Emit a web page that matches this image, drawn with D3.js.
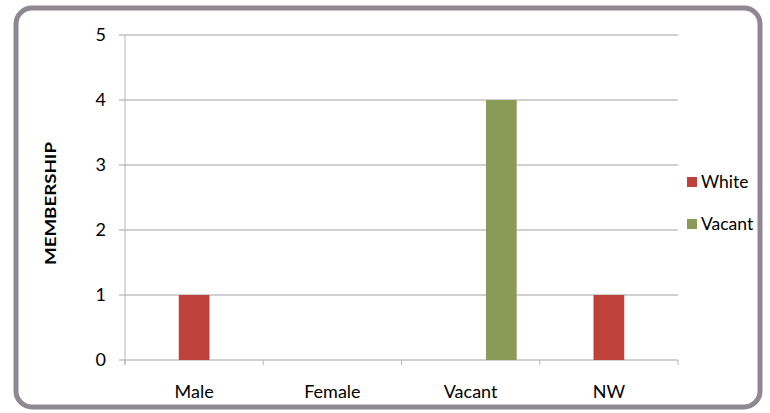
<!DOCTYPE html>
<html><head><meta charset="utf-8">
<script src="https://d3js.org/d3.v7.min.js"></script>
<style>
html,body{margin:0;padding:0;background:#fff;}
svg{display:block;font-family:Lato, "Open Sans", sans-serif;}
</style></head>
<body>
<svg id="chart" width="770" height="413"></svg>
<script>
const categories = ["Male", "Female", "Vacant", "NW"];
// Excel cluster has three slots; the first one is an empty (blank) series
const slots = ["", "White", "Vacant"];
const blankValues = [0, 0, 0, 0];
const whiteValues = [1, 0, 0, 1];
const vacantValues = [0, 0, 4, 0];
const legendSeries = ["White", "Vacant"];
const yTicks = [0, 1, 2, 3, 4, 5];
const yLabel = "MEMBERSHIP";

const colors = {"": "none", "White": "#c0403a", "Vacant": "#8a9b58"};
const seriesValues = {"": blankValues, "White": whiteValues, "Vacant": vacantValues};

const svg = d3.select("#chart");
const plot = {left: 125, right: 678, top: 35, bottom: 360};

// border
svg.append("rect").attr("x", 16).attr("y", 8).attr("width", 744).attr("height", 399)
  .attr("rx", 16).attr("ry", 16).attr("fill", "#fff")
  .attr("stroke", "#8d8892").attr("stroke-width", 5);

const x = d3.scaleBand().domain(categories).range([plot.left, plot.right]).paddingInner(0).paddingOuter(0);
// gap width 150% → inner slot positions
const gapFrac = 1.5 / (slots.length + 1.5);
const xs = d3.scaleBand().domain(slots).range([x.bandwidth() * gapFrac / 2, x.bandwidth() * (1 - gapFrac / 2)]).padding(0);
const y = d3.scaleLinear().domain([0, 5]).range([plot.bottom, plot.top]);

// gridlines
svg.append("g").selectAll("line").data(yTicks).join("line")
  .attr("x1", plot.left - 6).attr("x2", plot.right)
  .attr("y1", d => y(d)).attr("y2", d => y(d))
  .attr("stroke", "#a3a3a3").attr("stroke-width", 1);

// y axis line
svg.append("line").attr("x1", plot.left).attr("x2", plot.left)
  .attr("y1", plot.top).attr("y2", plot.bottom + 5)
  .attr("stroke", "#b5b5b5").attr("stroke-width", 1);

// x ticks at category boundaries
const bounds = categories.map(c => x(c)).concat([plot.right]);
svg.append("g").selectAll("line").data(bounds).join("line")
  .attr("x1", d => d).attr("x2", d => d)
  .attr("y1", plot.bottom).attr("y2", plot.bottom + 5)
  .attr("stroke", "#b5b5b5");

// y tick labels
svg.append("g").selectAll("text").data(yTicks).join("text")
  .attr("x", 106).attr("y", d => y(d)).attr("dy", "0.35em")
  .attr("text-anchor", "end").attr("font-size", 18).attr("fill", "#000")
  .text(d => d);

// x labels
svg.append("g").selectAll("text").data(categories).join("text")
  .attr("x", d => x(d) + x.bandwidth() / 2).attr("y", 398)
  .attr("text-anchor", "middle").attr("font-size", 18).attr("fill", "#000")
  .text(d => d);

// y axis title
svg.append("text").attr("transform", "translate(56,203.5) rotate(-90)")
  .attr("text-anchor", "middle")
  .attr("font-size", 15).attr("font-weight", "bold").attr("fill", "#000")
  .attr("textLength", 123).attr("lengthAdjust", "spacingAndGlyphs")
  .text(yLabel);

// bars
const barData = [];
categories.forEach((c, i) => {
  slots.forEach(s => {
    const v = seriesValues[s][i];
    if (s !== "" && v > 0) barData.push({c, s, v});
  });
});
svg.append("g").selectAll("rect").data(barData).join("rect")
  .attr("x", d => x(d.c) + xs(d.s))
  .attr("width", xs.bandwidth())
  .attr("y", d => y(d.v))
  .attr("height", d => y(0) - y(d.v))
  .attr("fill", d => colors[d.s]);

// legend
const lg = svg.append("g").selectAll("g").data(legendSeries).join("g")
  .attr("transform", (d, i) => `translate(687,${182 + i * 42})`);
lg.append("rect").attr("x", 0).attr("y", -5).attr("width", 10).attr("height", 10)
  .attr("fill", d => colors[d]);
lg.append("text").attr("x", 14).attr("y", 6)
  .attr("font-size", 17.5).attr("fill", "#000").text(d => d);
</script>
</body></html>
